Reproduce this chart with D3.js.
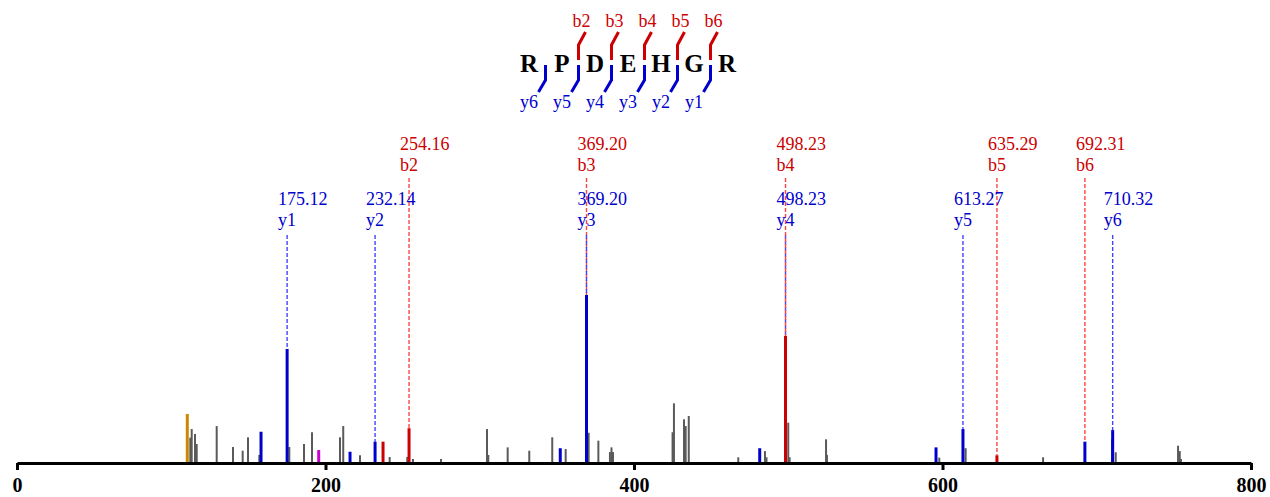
<!DOCTYPE html>
<html>
<head>
<meta charset="utf-8">
<script src="https://cdn.jsdelivr.net/npm/d3@7"></script>
<style>
  html, body { margin: 0; padding: 0; background: #fff; }
  svg { display: block; font-family: "Liberation Serif", "Times New Roman", serif; }
</style>
</head>
<body>
<svg id="chart" width="1270" height="497"></svg>
<script>
// ---------- DATA ----------
const sequence = ["R", "P", "D", "E", "H", "G", "R"];
const bIonNumbers = [2, 3, 4, 5, 6];
const yIonNumbers = [1, 2, 3, 4, 5, 6];

// peak m/z, relative intensity (%) and ion class
const peakMz = [110.4, 112.35, 113.26, 115.40, 116.5, 129.46, 140.03, 146.3, 149.76, 157.08,
  158.2, 175.12, 176.53, 186.06, 191.25, 195.6, 209.4, 211.5, 215.9, 222.37,
  232.14, 237.3, 241.6, 253.0, 254.16, 256.7, 274.9, 304.7, 305.55, 318.1,
  332.1, 347.0, 352.2, 355.7, 369.20, 370.6, 376.9, 384.4, 385.4, 386.4,
  425.0, 425.9, 432.4, 433.5, 435.5, 467.6, 481.5, 484.9, 485.9, 498.23,
  500.0, 500.9, 524.5, 525.1, 595.8, 597.9, 613.27, 615.0, 635.29, 665.2,
  692.31, 709.9, 710.32, 712.3, 752.7, 753.8, 754.6];
const peakIntensity = [29.2, 15.1, 20.2, 17.3, 11.3, 22.0, 9.5, 7.3, 15.3, 4.8,
  18.6, 67.9, 9.5, 11.3, 18.3, 7.7, 15.3, 22.0, 6.7, 4.6,
  12.7, 12.7, 3.6, 3.6, 20.7, 2.4, 2.4, 20.2, 4.8, 9.3,
  7.3, 15.3, 8.8, 8.3, 100, 18.0, 13.3, 6.5, 9.3, 6.5,
  18.3, 35.5, 26.0, 22.0, 28.0, 3.4, 8.8, 7.1, 3.4, 75.6,
  24.0, 3.4, 14.1, 4.8, 9.3, 3.2, 20.2, 8.8, 4.6, 3.4,
  12.7, 14.1, 19.6, 6.4, 10.3, 7.1, 2.4];
const peakType = ["immonium", "other", "other", "other", "other", "other", "other", "other", "other", "other",
  "y", "y", "other", "other", "other", "internal", "other", "other", "y", "other",
  "y", "b", "other", "other", "b", "other", "other", "other", "other", "other",
  "other", "other", "y", "other", "y", "other", "other", "other", "other", "other",
  "other", "other", "other", "other", "other", "other", "y", "other", "other", "b",
  "other", "other", "other", "other", "y", "other", "y", "other", "b", "other",
  "y", "other", "y", "other", "other", "other", "other"];

// annotated fragment ions
const annoMz = [175.12, 232.14, 254.16, 369.20, 369.20, 498.23, 498.23, 613.27, 635.29, 692.31, 710.32];
const annoIon = ["y1", "y2", "b2", "b3", "y3", "y4", "b4", "y5", "b5", "b6", "y6"];
const annoIntensity = [67.9, 12.7, 20.7, 100, 100, 75.6, 75.6, 20.2, 4.6, 12.7, 19.6];

const xTicks = [0, 200, 400, 600, 800];

// ---------- STYLE ----------
const colors = {
  other: "#5a5a5a", y: "#0000cc", b: "#cc0000",
  immonium: "#cc8800", internal: "#cc00cc"
};
const dashColors = { b: "#ff4444", y: "#4444ff" };

// ---------- SCALES ----------
const svg = d3.select("#chart");
const x = d3.scaleLinear().domain([0, 800]).range([17, 1251]);
const y = d3.scaleLinear().domain([0, 100]).range([463, 295]);

const peaks = peakMz.map((m, i) => ({ mz: m, inten: peakIntensity[i], type: peakType[i] }));

// ---------- ANNOTATION DASHED LINES + LABELS ----------
const annos = annoMz.map((m, i) => ({ mz: m, ion: annoIon[i], inten: annoIntensity[i], kind: annoIon[i][0] }));
const labelRow = { b: { val: 150, ion: 171, lineTop: 178 }, y: { val: 205, ion: 226, lineTop: 235 } };

const annoG = svg.append("g");
annos.forEach(a => {
  const row = labelRow[a.kind];
  annoG.append("line")
    .attr("x1", x(a.mz)).attr("x2", x(a.mz))
    .attr("y1", row.lineTop).attr("y2", y(a.inten))
    .attr("stroke", dashColors[a.kind]).attr("stroke-width", 1.4)
    .attr("stroke-dasharray", "4,2");
});
annos.forEach(a => {
  const row = labelRow[a.kind];
  const col = colors[a.kind];
  annoG.append("text").attr("x", x(a.mz) - 9).attr("y", row.val)
    .attr("font-size", 18).attr("fill", col).text(a.mz.toFixed(2));
  annoG.append("text").attr("x", x(a.mz) - 9).attr("y", row.ion)
    .attr("font-size", 18).attr("fill", col).text(a.ion);
});

// ---------- PEAKS ----------
const peakG = svg.append("g");
const drawPeaks = list => peakG.selectAll(null).data(list).enter().append("line")
  .attr("x1", d => x(d.mz)).attr("x2", d => x(d.mz))
  .attr("y1", y(0)).attr("y2", d => y(d.inten))
  .attr("stroke", d => colors[d.type])
  .attr("stroke-width", d => d.type === "other" ? 2 : 3);
drawPeaks(peaks.filter(p => p.type === "other"));
drawPeaks(peaks.filter(p => p.type !== "other"));

// ---------- AXIS ----------
const axis = d3.axisBottom(x).tickValues(xTicks).tickSize(7).tickSizeOuter(0).tickPadding(8);
const axG = svg.append("g").attr("transform", `translate(0,${y(0)})`).call(axis);
axG.select(".domain").attr("stroke", "#000").attr("stroke-width", 3);
axG.selectAll(".tick line").attr("stroke", "#000").attr("stroke-width", 3);
axG.selectAll(".tick text")
  .attr("font-family", "'Liberation Serif', 'Times New Roman', serif")
  .attr("font-size", 20).attr("font-weight", "bold").attr("fill", "#000");

// ---------- PEPTIDE HEADER ----------
const seqX = d3.scalePoint().domain(d3.range(sequence.length)).range([529, 727]);
const hdr = svg.append("g");
hdr.selectAll(null).data(sequence).enter().append("text")
  .attr("x", (d, i) => seqX(i)).attr("y", 72)
  .attr("text-anchor", "middle").attr("font-size", 25).attr("font-weight", "bold")
  .attr("fill", "#000").text(d => d);

const step = seqX(1) - seqX(0);
// cleavage position after residue k (1-based count from N-term)
const cutX = k => seqX(k - 1) + step / 2;

// b ions: red marks above
bIonNumbers.forEach(n => {
  const cx = cutX(n);
  hdr.append("path")
    .attr("d", `M${cx},60 L${cx},45 L${cx + 7},32`)
    .attr("fill", "none").attr("stroke", colors.b).attr("stroke-width", 3);
  hdr.append("text").attr("x", cx + 3).attr("y", 27).attr("text-anchor", "middle")
    .attr("font-size", 18).attr("fill", colors.b).text("b" + n);
});
// y ions: blue marks below
yIonNumbers.forEach(n => {
  const k = sequence.length - n;
  const cx = cutX(k);
  hdr.append("path")
    .attr("d", `M${cx},65 L${cx},80 L${cx - 7},92`)
    .attr("fill", "none").attr("stroke", colors.y).attr("stroke-width", 3);
  hdr.append("text").attr("x", seqX(k - 1)).attr("y", 108).attr("text-anchor", "middle")
    .attr("font-size", 18).attr("fill", colors.y).text("y" + n);
});
</script>
</body>
</html>
